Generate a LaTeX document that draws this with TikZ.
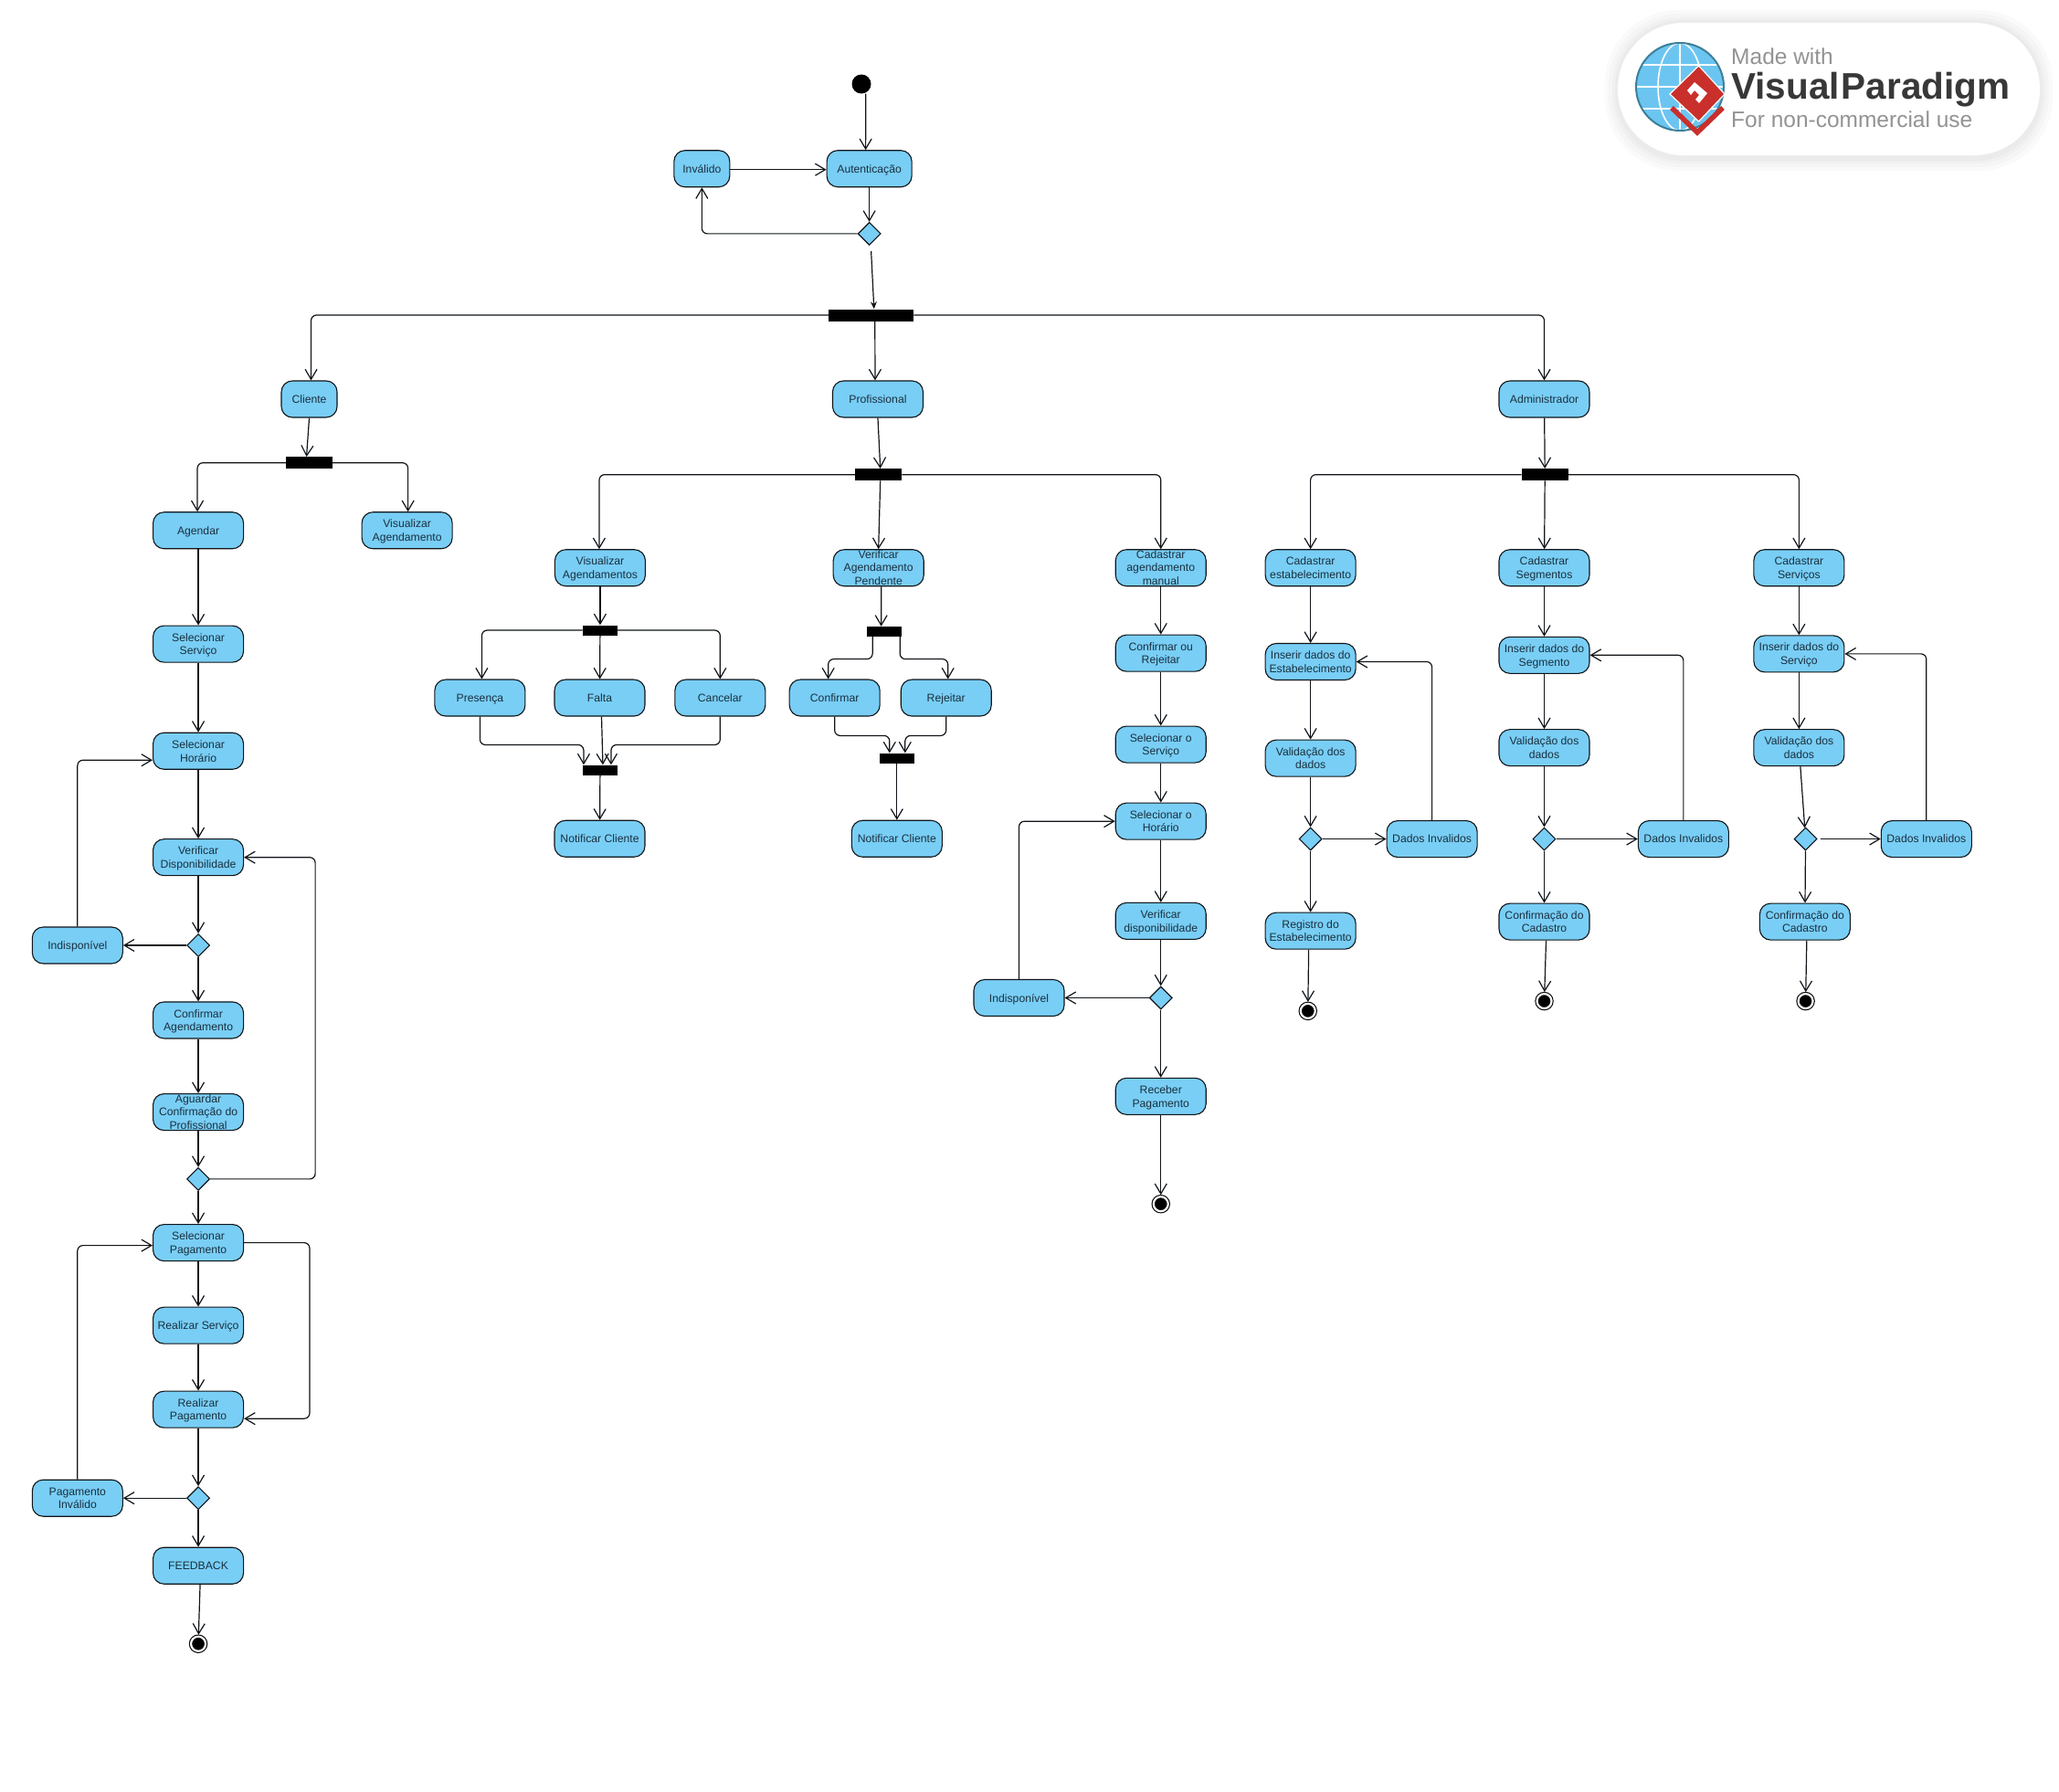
\documentclass[tikz,border=0pt]{standalone}
\usepackage{fontspec}
\setmainfont{Liberation Sans}
\usetikzlibrary{arrows.meta,shapes.geometric}
\definecolor{actx}{HTML}{79CEF5}
\definecolor{edgx}{HTML}{101418}
\definecolor{txtx}{HTML}{1A3040}
\definecolor{redx}{HTML}{C92F2B}
\definecolor{glox}{HTML}{6CC5F1}
\definecolor{rimx}{HTML}{3D7F99}
\tikzset{
    act/.style={draw=edgx,fill=actx,line width=1.1pt,rounded corners=12pt,minimum width=99pt,minimum height=40pt,
        inner sep=0pt,align=center,text=txtx,text depth=0pt,font=\fontsize{12.2}{14.7}\selectfont},
    actsmall/.style={act,minimum width=61pt},
    actthree/.style={act,text height=38.9pt,text depth=1.1pt},
    choice/.style={diamond,aspect=1,draw=edgx,fill=actx,line width=1.1pt,inner sep=0pt,minimum size=25pt},
    fork/.style={fill=black,inner sep=0pt,minimum width=#1,minimum height=11pt},
    bigfork/.style={fork=51pt,minimum height=13pt},
    startnode/.style={circle,fill=black,inner sep=0pt,minimum size=21pt},
    endnode/.style={circle,draw=black,fill=black,inner sep=0pt,minimum size=16pt,outer sep=2pt,line width=1.1pt,double=white,double distance=2.2pt},
    flow/.style={draw=edgx,line width=1.2pt,rounded corners=6pt,-{Straight Barb[length=11pt,width=13pt]}},
    wmark/.style={inner sep=0pt,anchor=base west,text=gray!85}
}
\begin{document}
\begin{tikzpicture}[x=1.4375pt,y=-1.4375pt]
    \useasboundingbox (0,0) rectangle (1568,1364.2);

    % watermark
    \begin{scope}[x=1pt,y=-1pt]
        \fill [black,opacity=.018,rounded corners=80pt] (1757,11) rectangle (2247,187);
        \fill [black,opacity=.018,rounded corners=78pt] (1761,15) rectangle (2243,183);
        \fill [black,opacity=.018,rounded corners=76pt] (1765,19) rectangle (2239,179);
        \fill [black,opacity=.018,rounded corners=74pt] (1768,22) rectangle (2236,176);
        \fill [white,rounded corners=72pt] (1771,25) rectangle (2233,170);
        \begin{scope}
            \clip (1839,95) circle (48);
            \fill [glox] (1839,95) circle (48);
            \draw [white,line width=1.6pt]
                (1839,47) -- (1839,143)
                (1839,95) ellipse (24 and 48)
                (1791,95) -- (1887,95)
                (1791,71) -- (1887,71)
                (1791,119) -- (1887,119)
            ;
        \end{scope}
        \draw [rimx,line width=2pt] (1839,95) circle (48);
        \draw [redx,line width=5.5pt] (1830,118) -- (1858,145) -- (1886,118);
        \filldraw [redx,draw=white,line width=1.2pt] (1859.6,72) -- (1888,103) -- (1859.6,133) -- (1828,103) -- cycle;
        \fill [white] (1855,90) -- (1869,102) -- (1860,113) -- (1856,109) -- (1860,104) -- (1855,99) -- (1851,104) -- (1847,99) -- cycle;
        \node [wmark,font=\fontsize{24.5}{28}\selectfont] (wma) at (1895,70.5) {Made with};
        \node [wmark,font=\fontsize{40.5}{44}\selectfont\bfseries,text=black!78] (wmb) at (1895,108) {Visual\hspace{2pt}Paradigm};
        \node [wmark,font=\fontsize{24.5}{28}\selectfont] (wmc) at (1895,139) {For non-commercial use};
    \end{scope}

    % top
    \node [startnode] (init) at (656,64) {};
    \node [act,minimum width=93pt] (auth) at (662,128.5) {Autenticação};
    \node [actsmall] (inv) at (534.5,128.5) {Inválido};
    \node [choice] (dtop) at (662,178) {};
    \node [fork=93pt,minimum height=13pt] (btop) at (663.5,240) {};
    \node [actsmall] (cli) at (235.5,304) {Cliente};
    \node [act] (prof) at (668.5,304) {Profissional};
    \node [act] (adm) at (1176,304) {Administrador};

    \draw [flow] ([xshift=4.7pt]init.south) -- ([xshift=-4pt]auth.north);
    \draw [flow] ([yshift=-1pt]inv.east) -- ([yshift=-1pt]auth.west);
    \draw [flow] (auth.south) -- (dtop.north);
    \draw [flow] (dtop.west) -| (inv.south);
    \draw [draw=edgx,line width=1.2pt,-{Stealth[length=8pt,width=7pt]}] ([xshift=2pt,yshift=-6pt]dtop.south) -- ([xshift=3pt]btop.north);
    \draw [flow] (btop.west) -| ([xshift=2pt]cli.north);
    \draw [flow] ([xshift=4pt]btop.south) -- ([xshift=-3pt]prof.north);
    \draw [flow] (btop.east) -| (adm.north);

    % cliente
    \node [bigfork] (bcli) at (235.5,352.5) {};
    \node [act] (agen) at (151,404) {Agendar};
    \node [act] (visa) at (310,404) {Visualizar\\Agendamento};
    \node [act] (sser) at (151,490.5) {Selecionar\\Serviço};
    \node [act] (shor) at (151,572) {Selecionar\\Horário};
    \node [act] (vdis) at (151,653) {Verificar\\Disponibilidade};
    \node [choice] (dcla) at (151,720) {};
    \node [act] (indi) at (59,720) {Indisponível};
    \node [act] (cage) at (151,777) {Confirmar\\Agendamento};
    \node [actthree] (agua) at (151,847) {Aguardar\\Confirmação do\\Profissional};
    \node [choice] (dclb) at (151,898) {};
    \node [act] (spag) at (151,946.5) {Selecionar\\Pagamento};
    \node [act] (rser) at (151,1009.5) {Realizar Serviço};
    \node [act] (rpag) at (151,1073.5) {Realizar\\Pagamento};
    \node [choice] (dclc) at (151,1141) {};
    \node [act] (pinv) at (59,1141) {Pagamento\\Inválido};
    \node [act] (feed) at (151,1192.5) {FEEDBACK};
    \node [endnode] (ecli) at (151,1252) {};

    \draw [flow] (cli.south) -- ([xshift=-3pt]bcli.north);
    \draw [flow] (bcli.west) -| ([xshift=-1pt]agen.north);
    \draw [flow] (bcli.east) -| ([xshift=1pt]visa.north);
    \draw [flow] (agen) -- (sser);
    \draw [flow] (sser) -- (shor);
    \draw [flow] (shor) -- (vdis);
    \draw [flow] (vdis) -- (dcla);
    \draw [flow] (dcla) -- (indi);
    \draw [flow] (indi.north) |- ([yshift=-10pt]shor.west);
    \draw [flow] (dcla) -- (cage);
    \draw [flow] (cage) -- (agua);
    \draw [flow] (agua) -- (dclb);
    \draw [flow] (dclb.east) -- ++(80,0) |- (vdis.east);
    \draw [flow] (dclb) -- (spag);
    \draw [flow] (spag) -- (rser);
    \draw [flow] (rser) -- (rpag);
    \draw [flow] (spag.east) -- ++(50,0) |- ([yshift=-10pt]rpag.east);
    \draw [flow] (rpag) -- (dclc);
    \draw [flow] (dclc) -- (pinv);
    \draw [flow] (pinv.north) |- ([yshift=-3pt]spag.west);
    \draw [flow] (dclc) -- (feed);
    \draw [flow] ([xshift=2pt]feed.south) -- (ecli);

    % profissional
    \node [bigfork] (bpro) at (669,361.5) {};
    \node [act] (vage) at (457,432.5) {Visualizar\\Agendamentos};
    \node [actthree] (vpen) at (669,432.5) {Verificar\\Agendamento\\Pendente};
    \node [actthree] (cman) at (884,432.5) {Cadastrar\\agendamento\\manual};

    \draw [flow] (prof.south) -- ([xshift=2pt]bpro.north);
    \draw [flow] (bpro.west) -| ([xshift=-1pt]vage.north);
    \draw [flow] ([xshift=2pt]bpro.south) -- (vpen.north);
    \draw [flow] (bpro.east) -| (cman.north);

    \node [fork=38pt] (bvag) at (457,480) {};
    \node [act] (pres) at (365.5,531.5) {Presença};
    \node [act] (falt) at (456.7,531.5) {Falta};
    \node [act] (canc) at (548.4,531.5) {Cancelar};
    \node [fork=38pt] (bnot) at (457,586.5) {};
    \node [act] (nota) at (456.7,638.8) {Notificar Cliente};

    \draw [flow] (vage) -- (bvag);
    \draw [flow] (bvag.west) -| ([xshift=2pt]pres.north);
    \draw [flow] (bvag) -- (falt);
    \draw [flow] (bvag.east) -| (canc.north);
    \draw [flow] (pres.south) -- ++(0,21.5) -| ([xshift=-18pt]bnot.north);
    \draw [flow] ([xshift=2pt]falt.south) -- ([xshift=3pt]bnot.north);
    \draw [flow] (canc.south) -- ++(0,21.5) -| ([xshift=12pt]bnot.north);
    \draw [flow] (bnot) -- (nota);

    \node [fork=38pt] (bpen) at (673.5,481) {};
    \node [act] (conf) at (635.6,531.5) {Confirmar};
    \node [act] (reje) at (720.5,531.5) {Rejeitar};
    \node [fork=38pt] (bcad) at (683,577.5) {};
    \node [act] (notb) at (683,638.8) {Notificar Cliente};

    \draw [flow] ([xshift=3pt]vpen.south) -- ([xshift=-3.5pt]bpen.north);
    \draw [flow] ([xshift=-13pt]bpen.south) -- ++(0,17) -| ([xshift=-7pt]conf.north);
    \draw [flow] ([xshift=17pt]bpen.south) -- ++(0,17) -| ([xshift=2pt]reje.north);
    \draw [flow] (conf.south) -- ++(0,14.5) -| ([xshift=-8pt]bcad.north);
    \draw [flow] (reje.south) -- ++(0,14.5) -| ([xshift=9pt]bcad.north);
    \draw [flow] (bcad) -- (notb);

    \node [act] (cror) at (884,497.5) {Confirmar ou\\Rejeitar};
    \node [act] (ssea) at (884,567) {Selecionar o\\Serviço};
    \node [act] (shoa) at (884,625.5) {Selecionar o\\Horário};
    \node [act] (vdia) at (884,701.5) {Verificar\\disponibilidade};
    \node [choice] (dpro) at (884,760) {};
    \node [act] (inda) at (776,760) {Indisponível};
    \node [act] (rcpg) at (884,835) {Receber\\Pagamento};
    \node [endnode] (epro) at (884,917) {};

    \draw [flow] (cman) -- (cror);
    \draw [flow] (cror) -- (ssea);
    \draw [flow] (ssea) -- (shoa);
    \draw [flow] (shoa) -- (vdia);
    \draw [flow] (vdia) -- (dpro);
    \draw [flow] (dpro) -- (inda);
    \draw [flow] (inda.north) |- (shoa.west);
    \draw [flow] (dpro) -- (rcpg);
    \draw [flow] (rcpg) -- (epro);

    % administrador
    \node [bigfork] (badm) at (1176.5,361.5) {};
    \node [act] (cest) at (998,432.5) {Cadastrar\\estabelecimento};
    \node [act] (cseg) at (1176,432.5) {Cadastrar\\Segmentos};
    \node [act] (csrv) at (1370,432.5) {Cadastrar\\Serviços};

    \draw [flow] (adm) -- (badm);
    \draw [flow] (badm.west) -| (cest.north);
    \draw [flow] (badm) -- (cseg);
    \draw [flow] (badm.east) -| (csrv.north);

    \node [act] (iest) at (998,504) {Inserir dados do\\Estabelecimento};
    \node [act] (vest) at (998,577.5) {Validação dos\\dados};
    \node [choice] (dest) at (998,639) {};
    \node [act] (nest) at (1090.5,639) {Dados Invalidos};
    \node [act] (rest) at (998,709) {Registro do\\Estabelecimento};
    \node [endnode] (eest) at (996,770) {};

    \draw [flow] (cest) -- (iest);
    \draw [flow] (iest) -- (vest);
    \draw [flow] (vest) -- (dest);
    \draw [flow] (dest) -- (nest);
    \draw [flow] (nest.north) |- (iest.east);
    \draw [flow] (dest) -- (rest);
    \draw [flow] ([xshift=-2pt]rest.south) -- (eest);

    \node [act] (iseg) at (1176,499) {Inserir dados do\\Segmento};
    \node [act] (vseg) at (1176,569.5) {Validação dos\\dados};
    \node [choice] (dseg) at (1176,639) {};
    \node [act] (nseg) at (1282,639) {Dados Invalidos};
    \node [act] (oseg) at (1176,702) {Confirmação do\\Cadastro};
    \node [endnode] (eseg) at (1176,762.5) {};

    \draw [flow] (cseg) -- (iseg);
    \draw [flow] (iseg) -- (vseg);
    \draw [flow] (vseg) -- (dseg);
    \draw [flow] (dseg) -- (nseg);
    \draw [flow] (nseg.north) |- (iseg.east);
    \draw [flow] (dseg) -- (oseg);
    \draw [flow] ([xshift=2pt]oseg.south) -- (eseg);

    \node [act] (isrv) at (1370,498) {Inserir dados do\\Serviço};
    \node [act] (vsrv) at (1370,569.5) {Validação dos\\dados};
    \node [choice] (dsrv) at (1375,639) {};
    \node [act] (nsrv) at (1467,639) {Dados Invalidos};
    \node [act] (osrv) at (1374.5,702) {Confirmação do\\Cadastro};
    \node [endnode] (esrv) at (1375,762.5) {};

    \draw [flow] (csrv) -- (isrv);
    \draw [flow] (isrv) -- (vsrv);
    \draw [flow] (vsrv) -- (dsrv);
    \draw [flow] ([xshift=3pt]dsrv.east) -- (nsrv);
    \draw [flow] (nsrv.north) |- (isrv.east);
    \draw [flow] (dsrv) -- (osrv);
    \draw [flow] ([xshift=2pt]osrv.south) -- (esrv);
\end{tikzpicture}
\end{document}
